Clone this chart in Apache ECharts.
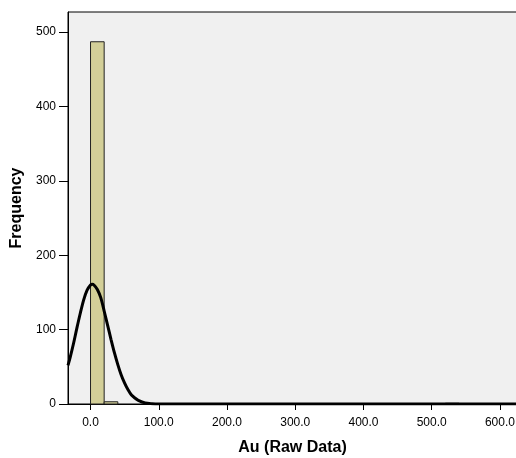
<!DOCTYPE html>
<html>
<head>
<meta charset="utf-8">
<script src="https://cdn.jsdelivr.net/npm/echarts@6/dist/echarts.min.js"></script>
<style>html,body{margin:0;padding:0;background:#fff;}#c{width:516px;height:458px;}</style>
</head>
<body>
<div id="c"></div>
<script>
// Histogram bins (start, end, count)
const binStarts = [0, 20, 520];
const binEnds = [20, 40, 540];
const binCounts = [487, 3, 1];
// Normal curve
const curveX = [-33, -30, -25, -20, -15, -10, -5, 0, 2.5, 5, 10, 15, 20, 25, 30, 35, 40, 45, 50, 55, 60, 65, 70, 80, 90, 100, 200, 300, 400, 500, 625];
const curveY = [52, 62, 81, 102, 122, 140, 153, 160, 161, 160, 154, 143, 125, 106, 87, 69, 53, 39, 28, 19, 12, 8, 5, 1.5, 0.4, 0, 0, 0, 0, 0, 0];
const xTicks = [0, 100, 200, 300, 400, 500, 600];
const yTicks = [0, 100, 200, 300, 400, 500];

const font = '"Liberation Sans", Arial, sans-serif';
const chart = echarts.init(document.getElementById('c'));
chart.setOption({
  animation: false,
  grid: { left: 68, top: 12, right: -1, bottom: 54, show: true, backgroundColor: '#f0f0f0', borderColor: '#000', borderWidth: 1, containLabel: false, outerBoundsMode: 'none' },
  xAxis: {
    type: 'value', min: -33, max: 625,
    name: 'Au (Raw Data)', nameLocation: 'middle', nameGap: 36,
    nameTextStyle: { fontFamily: font, fontWeight: 'bold', fontSize: 16, color: '#000' },
    axisLine: { show: true, onZero: false, lineStyle: { color: '#000', width: 1 } },
    axisTick: { show: true, length: 6, customValues: xTicks, lineStyle: { color: '#000' } },
    axisLabel: { customValues: xTicks, fontFamily: font, fontSize: 12, color: '#000', margin: 13,
      formatter: v => v.toFixed(1) },
    splitLine: { show: false }
  },
  yAxis: {
    type: 'value', min: 0, max: 527,
    name: 'Frequency', nameLocation: 'middle', nameGap: 42,
    nameTextStyle: { fontFamily: font, fontWeight: 'bold', fontSize: 16, color: '#000' },
    axisLine: { show: true, onZero: false, lineStyle: { color: '#000', width: 1 } },
    axisTick: { show: true, length: 9, customValues: yTicks, lineStyle: { color: '#000' } },
    axisLabel: { customValues: yTicks, fontFamily: font, fontSize: 12, color: '#000', margin: 12 },
    splitLine: { show: false }
  },
  series: [
    {
      type: 'custom',
      data: binCounts.map((c, i) => [binStarts[i], binEnds[i], c]),
      renderItem: function (params, api) {
        const p0 = api.coord([api.value(0), 0]);
        const p1 = api.coord([api.value(1), api.value(2)]);
        return {
          type: 'rect',
          shape: { x: p0[0], y: p1[1], width: p1[0] - p0[0], height: p0[1] - p1[1] },
          style: { fill: '#d3cf98', stroke: '#222', lineWidth: 1 }
        };
      },
      z: 2
    },
    {
      type: 'line',
      data: curveX.map((x, i) => [x, curveY[i]]),
      smooth: 0.3,
      showSymbol: false,
      lineStyle: { color: '#000', width: 3 },
      z: 3
    }
  ]
});
</script>
</body>
</html>
